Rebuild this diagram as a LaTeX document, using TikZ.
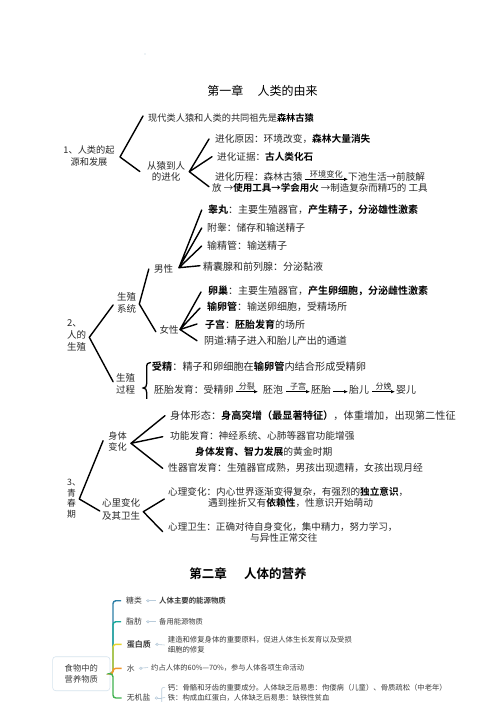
\documentclass[tikz,border=0pt]{standalone}
\usepackage{fontspec}
\setmainfont{Noto Sans CJK SC}[BoldFont={Noto Sans CJK SC Bold}]
\usetikzlibrary{arrows.meta}
\definecolor{txt}{HTML}{2A2A2A}
\definecolor{txtb}{HTML}{3C3C3C}
\definecolor{boxc}{HTML}{D6E4EE}
\definecolor{linkc}{HTML}{B9CCDB}
\definecolor{cblue}{HTML}{2D7FA6}
\definecolor{cteal}{HTML}{19A99A}
\definecolor{cyel}{HTML}{E8D62B}
\definecolor{corg}{HTML}{F0962A}
\definecolor{cgrn}{HTML}{40B24F}
\newcommand\myfs[2]{\fontsize{#1}{#2}\selectfont}
\begin{document}
\begin{tikzpicture}[x=1pt,y=-1pt,
  t/.style={anchor=west, inner sep=0pt, text=txt},
  lbl/.style={inner sep=0pt, align=center, text=txt},
  fork/.style={line width=1.4pt, line cap=round, line join=round, draw=black},
  arr/.style={line width=0.7pt, -{Latex[length=4pt,width=3.5pt]}, draw=black},
  bracestyle/.style={line width=1.3pt, line cap=round, draw=black},
  mm/.style={line width=1.4pt, rounded corners=3pt},
  lk/.style={line width=0.6pt, draw=linkc},
  m2t/.style={anchor=west, inner sep=0pt, text=txtb},
  ]
\useasboundingbox (0,0) rectangle (496,702);
\clip (0,0) rectangle (496,702);
\fill[white] (0,0) rectangle (496,702);

% tiny mark
\fill[linkc] (145,54) circle (0.7pt);

% ===== Chapter 1 =====
\node[lbl, text=black, font=\myfs{12}{14}] (ch1) at (262.5,91) {第一章\hspace{1.2em}人类的由来};

\node[lbl, font=\myfs{9.2}{12}] (r1) at (89,156) {1、人类的起\\源和发展};
\coordinate (v1) at (120,157);
\node[t, font=\myfs{9.2}{11}] (a1) at (148,118) {现代类人猿和人类的共同祖先是\textbf{\color{black}森林古猿}};
\node[lbl, font=\myfs{9.5}{11.5}] (a2) at (166,171.5) {从猿到人\\的进化};
\draw[fork] ([xshift=-5pt,yshift=2pt]a1.west) -- (v1) -- ([xshift=-7pt]a2.west);

\coordinate (v2) at (189.3,171.7);
\node[t, font=\myfs{9.7}{12}] (b1) at (215,139) {进化原因：环境改变，\textbf{\color{black}森林大量消失}};
\node[t, font=\myfs{9.6}{12}] (b2) at (217,156.7) {进化证据：\textbf{\color{black}古人类化石}};
\node[t, font=\myfs{9.7}{12}] (b3) at (215,177) {进化历程：森林古猿};
\node[t, font=\myfs{9.6}{12}] (b4) at (348,177) {下池生活→前肢解};
\node[t, font=\myfs{9.5}{12}] (b5) at (212,188) {放 →\textbf{\color{black}使用工具→学会用火} →制造复杂而精巧的 工具};
\draw[fork] ([xshift=-6pt]b1.west) -- (v2) -- ([xshift=-5pt]b2.west);
\draw[fork] (v2) -- ([xshift=-3pt,yshift=1.3pt]b5.west);
\draw[arr] ([xshift=2pt,yshift=-2.3pt]b3.east) -- ([yshift=-2.3pt]b4.west)
  node[midway, above=0.3pt, inner sep=0pt, text=txt, font=\myfs{8.2}{10}] (l1) {环境变化};

% ===== Reproduction =====
\coordinate (vm) at (179,267.7);
\node[t, font=\myfs{10}{12}] (m1) at (208,210) {\textbf{\color{black}睾丸}：主要生殖器官，\textbf{\color{black}产生精子，分泌雄性激素}};
\node[t, font=\myfs{9.8}{12}] (m2) at (207,228) {附睾：储存和输送精子};
\node[t, font=\myfs{10}{12}] (m3) at (207,246) {输精管：输送精子};
\node[t, font=\myfs{10}{12}] (m4) at (203,267) {精囊腺和前列腺：分泌黏液};
\node[lbl, font=\myfs{9.5}{12}] (male) at (163.5,269) {男性};
\draw[fork] ([xshift=-6.3pt]m1.west) -- (vm) -- ([xshift=-5.3pt]m2.west);
\draw[fork] ([xshift=-5.3pt]m3.west) -- (vm) -- ([xshift=-3pt,yshift=1.3pt]m4.west);

\coordinate (vf) at (180,329.5);
\node[t, font=\myfs{10}{12}] (f1) at (208,290.7) {\textbf{\color{black}卵巢}：主要生殖器官，\textbf{\color{black}产生卵细胞，分泌雌性激素}};
\node[t, font=\myfs{10}{12}] (f2) at (207,307) {\textbf{\color{black}输卵管}：输送卵细胞，受精场所};
\node[t, font=\myfs{10}{12}] (f3) at (205,325) {\textbf{\color{black}子宫}：\textbf{\color{black}胚胎发育}的场所};
\node[t, font=\myfs{10}{12}] (f4) at (204,340.7) {阴道:精子进入和胎儿产出的通道};
\node[lbl, font=\myfs{9.5}{12}] (female) at (169,330) {女性};
\draw[fork] ([xshift=-7pt,yshift=-1.3pt]f1.west) -- (vf) -- ([xshift=-7pt,yshift=-1pt]f2.west);
\draw[fork] ([xshift=-8pt,yshift=1pt]f3.west) -- (vf) -- ([xshift=-7pt]f4.west);

\node[lbl, font=\myfs{9.5}{12}] (sys) at (126.5,303.3) {生殖\\系统};
\coordinate (vs) at (139.3,304);
\draw[fork] ([xshift=-5pt]male.west) -- (vs) -- ([xshift=-3.5pt,yshift=-1.7pt]female.west);

\node[t, align=left, font=\myfs{9.5}{12}] (r2) at (67,335.3) {2、\\人的\\生殖};
\coordinate (vr2) at (89.3,337.3);
\node[lbl, font=\myfs{9.5}{11.7}] (proc) at (125.5,384.2) {生殖\\过程};
\draw[fork] ([xshift=-3.7pt,yshift=-1.7pt]sys.west) -- (vr2) -- ([xshift=-2.7pt,yshift=2.5pt]proc.west);

% brace
\coordinate (bt) at (150.5,362.5);
\coordinate (bb) at (150.5,413.5);
\draw[bracestyle] (bt) .. controls (147.5,362.5) and (146.7,364) .. (146.7,367.5)
  -- (146.7,383.5) .. controls (146.7,386.5) and (145.5,388) .. (143.2,388)
  .. controls (145.5,388) and (146.7,389.5) .. (146.7,392.5)
  -- (146.7,408.5) .. controls (146.7,412) and (147.5,413.5) .. (bb);
\node[t, font=\myfs{10.2}{12}] (g1) at (151.7,366.7) {\textbf{\color{black}受精}：精子和卵细胞在\textbf{\color{black}输卵管}内结合形成受精卵};
\node[t, font=\myfs{9.9}{12}] (g2) at (154,390) {胚胎发育：受精卵};
\node[t, font=\myfs{9.9}{12}] (g3) at (263,390) {胚泡};
\node[t, font=\myfs{9.9}{12}] (g4) at (311,390) {胚胎};
\node[t, font=\myfs{9.9}{12}] (g5) at (349,390) {胎儿};
\node[t, font=\myfs{9.9}{12}] (g6) at (396,390) {婴儿};
\tikzset{al/.style={midway, above=0.8pt, inner sep=0pt, text=txt, font=\myfs{8}{10}}}
\draw[arr] ([xshift=2pt,yshift=-1.7pt]g2.east) -- ([xshift=-5pt,yshift=-1.7pt]g3.west) node[al] (l2) {分裂};
\draw[arr] ([xshift=3pt,yshift=-1.7pt]g3.east) -- ([xshift=-1pt,yshift=-1.7pt]g4.west) node[al] (l3) {子宫};
\draw[arr] ([xshift=2pt,yshift=-1.7pt]g4.east) -- ([xshift=-1pt,yshift=-1.7pt]g5.west);
\draw[arr] ([xshift=3pt,yshift=-1.7pt]g5.east) -- ([xshift=-1pt,yshift=-1.7pt]g6.west) node[al] (l4) {分娩};

% ===== Puberty panel =====
\fill[white] (40,399) rectangle (470,548);
\node[t, font=\myfs{10.2}{12}] (s1) at (170,415.7) {身体形态：\textbf{\color{black}身高突增（最显著特征）}，体重增加，出现第二性征};
\node[t, font=\myfs{9.7}{12}] (s2) at (170,435.7) {功能发育：神经系统、心肺等器官功能增强};
\node[t, font=\myfs{9.8}{12}] (s3) at (195,451.7) {\textbf{\color{black}身体发育、智力发展}的黄金时期};
\node[t, font=\myfs{9.8}{12}] (s4) at (168,468.3) {性器官发育：生殖器官成熟，男孩出现遗精，女孩出现月经};
\node[lbl, font=\myfs{9.2}{10.5}] (body) at (117.5,441.7) {身体\\变化};
\coordinate (vb) at (131,443.3);
\draw[fork] ([xshift=-5pt]s1.west) -- (vb) -- ([xshift=-7.3pt,yshift=-1pt]s2.west);
\draw[fork] (vb) -- ([xshift=-5.3pt]s4.west);

\node[t, align=left, font=\myfs{8.8}{10.9}] (r3) at (67,498.7) {3、\\青\\春\\期};
\coordinate (vr3) at (79.3,499);
\node[lbl, font=\myfs{9.5}{12.4}] (psy) at (121,509.5) {心里变化\\及其卫生};
\coordinate (vp) at (143.3,511.7);
\draw[fork] ([xshift=-5pt,yshift=1pt]body.west) -- (vr3) -- ([xshift=-2pt,yshift=-1.5pt]psy.west);
\node[t, font=\myfs{9.6}{12}] (p1) at (168,492.3) {心理变化：内心世界逐渐变得复杂，有强烈的\textbf{\color{black}独立意识}，};
\node[t, font=\myfs{9.7}{12}] (p1b) at (208,503.3) {遇到挫折又有\textbf{\color{black}依赖性}，性意识开始萌动};
\node[t, font=\myfs{9.55}{12}] (p2) at (168,526.7) {心理卫生：正确对待自身变化，集中精力，努力学习，};
\node[t, font=\myfs{9.6}{12}] (p2b) at (250,537.7) {与异性正常交往};
\draw[fork] ([xshift=-3.7pt,yshift=-6.7pt]p1.west) -- (vp) -- ([xshift=-5.3pt,yshift=-5pt]p2.west);

% ===== Chapter 2 =====
\node[lbl, text=black, font=\myfs{12.5}{14}] (ch2) at (248,573.3) {\textbf{第二章\hspace{1.4em}人体的营养}};

\node[draw=boxc, rounded corners=3pt, line width=0.6pt, minimum width=57.3pt, minimum height=34pt,
  align=center, inner sep=0pt, text=txtb, font=\myfs{8.3}{11}] (root) at (81.3,673.7) {食物中的\\营养物质};

\node[m2t, font=\myfs{7.8}{9}] (c1) at (126,600.7) {糖类};
\node[m2t, font=\myfs{7.8}{9}] (c2) at (126,621.7) {脂肪};
\node[m2t, font=\myfs{8}{9}] (c3) at (126.7,644.3) {\textbf{蛋白质}};
\node[m2t, font=\myfs{7.8}{9}] (c4) at (126.7,668.3) {水};
\node[m2t, font=\myfs{7.8}{9}] (c5) at (126.7,698) {无机盐};

\draw[mm, draw=cblue] (root.east) -- ++(2.7,0) |- ([xshift=-5pt]c1.west);
\draw[mm, draw=cteal] (root.east) -- ++(2.7,0) |- ([xshift=-5pt]c2.west);
\draw[mm, draw=cyel] (root.east) -- ++(2.7,0) |- ([xshift=-5pt]c3.west);
\draw[mm, draw=corg] (root.east) -- ++(2.7,0) |- ([xshift=-5pt]c4.west);
\draw[mm, draw=cgrn] (root.east) -- ++(2.7,0) |- ([xshift=-5pt]c5.west);

\node[m2t, font=\myfs{7.4}{9}] (d1) at (159,600.7) {\textbf{人体主要的能源物质}};
\node[m2t, font=\myfs{7.3}{9}] (d2) at (159,621.7) {备用能源物质};
\node[m2t, align=left, font=\myfs{7.36}{10}] (d3) at (167.7,645) {建造和修复身体的重要原料，促进人体生长发育以及受损\\细胞的修复};
\node[m2t, font=\myfs{7.3}{9}] (d4) at (151,667.5) {约占人体的60\%—70\%，参与人体各项生命活动};
\node[m2t, font=\myfs{7.34}{9}] (d5a) at (167.7,687.3) {钙：骨骼和牙齿的重要成分。人体缺乏后易患：佝偻病（儿童）、骨质疏松（中老年）};
\node[m2t, font=\myfs{7.34}{9}] (d5b) at (167.7,697.5) {铁：构成血红蛋白，人体缺乏后易患：缺铁性贫血};

\draw[lk] ([xshift=4pt]c1.east) -- ([xshift=-3pt]d1.west);
\draw[lk, fill=white] ([xshift=6pt]c1.east) circle (1.2pt);
\draw[lk] ([xshift=4pt]c2.east) -- ([xshift=-3pt]d2.west);
\draw[lk, fill=white] ([xshift=6pt]c2.east) circle (1.2pt);
\draw[lk] ([xshift=4pt]c3.east) -- ([xshift=-3pt]d3.west);
\draw[lk, fill=white] ([xshift=6pt]c3.east) circle (1.2pt);
\draw[lk] ([xshift=4pt]c4.east) -- ([xshift=-3pt]d4.west);
\draw[lk, fill=white] ([xshift=6pt]c4.east) circle (1.2pt);
\coordinate (bk) at (161.7,698);
\draw[lk] ([xshift=4pt]c5.east) -- (bk);
\draw[lk, fill=white] ([xshift=6pt]c5.east) circle (1.2pt);
\draw[lk, rounded corners=1.5pt] ([xshift=-2.5pt]d5a.west) -| ([yshift=-15pt]bk);
\draw[lk] ([xshift=-2.5pt]d5b.west) -- (bk);
\end{tikzpicture}
\end{document}
